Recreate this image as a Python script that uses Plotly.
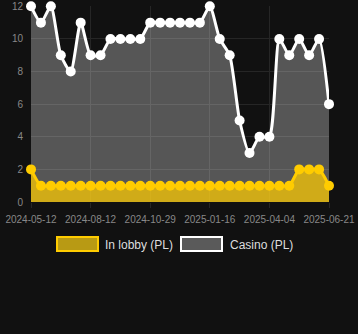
import plotly.graph_objects as go

dates = ["2024-05-12", "2024-05-27", "2024-06-11", "2024-06-26", "2024-07-12", "2024-07-27",
         "2024-08-12", "2024-08-25", "2024-09-07", "2024-09-20", "2024-10-03", "2024-10-16",
         "2024-10-29", "2024-11-11", "2024-11-24", "2024-12-07", "2024-12-20", "2025-01-03",
         "2025-01-16", "2025-01-29", "2025-02-11", "2025-02-24", "2025-03-09", "2025-03-22",
         "2025-04-04", "2025-04-17", "2025-04-30", "2025-05-13", "2025-05-26", "2025-06-08",
         "2025-06-21"]
casino = [12, 11, 12, 9, 8, 11, 9, 9, 10, 10, 10, 10, 11, 11, 11, 11, 11, 11, 12, 10, 9, 5, 3, 4, 4,
          10, 9, 10, 9, 10, 6]
lobby = [2] + [1] * 26 + [2, 2, 2, 1]
tick_labels = ["2024-05-12", "2024-08-12", "2024-10-29", "2025-01-16", "2025-04-04", "2025-06-21"]
y_ticks = [0, 2, 4, 6, 8, 10, 12]

W, H = 358, 334
ML, MR, MT, MB = 31, 29, 6, 132

fig = go.Figure()
fig.add_trace(go.Scatter(
    x=dates, y=casino, mode="lines+markers", name="Casino (PL)",
    line=dict(color="#ffffff", width=3, shape="spline", smoothing=0.6),
    marker=dict(color="#ffffff", size=10),
    fill="tozeroy", fillcolor="rgba(255,255,255,0.29)", showlegend=False, cliponaxis=False))
fig.add_trace(go.Scatter(
    x=dates, y=lobby, mode="lines+markers", name="In lobby (PL)",
    line=dict(color="#ffcc00", width=3, shape="spline", smoothing=0.6),
    marker=dict(color="#ffcc00", size=10),
    fill="tozeroy", fillcolor="rgba(255,204,0,0.72)", showlegend=False, cliponaxis=False))

pw = W - ML - MR
ph = H - MT - MB
def px(x): return (x - ML) / pw
def py(y): return (H - MB - y) / ph

shapes = [
    dict(type="rect", xref="paper", yref="paper", x0=px(57), x1=px(98), y0=py(251), y1=py(237),
         fillcolor="#b89a14", line=dict(color="#ffcc00", width=2)),
    dict(type="rect", xref="paper", yref="paper", x0=px(181), x1=px(222), y0=py(251), y1=py(237),
         fillcolor="#5a5a5a", line=dict(color="#ffffff", width=2)),
]
annotations = [
    dict(xref="paper", yref="paper", x=px(103), y=py(245), text="In lobby (PL)", showarrow=False,
         xanchor="left", yanchor="middle", font=dict(color="#dddddd", size=12)),
    dict(xref="paper", yref="paper", x=px(228), y=py(245), text="Casino (PL)", showarrow=False,
         xanchor="left", yanchor="middle", font=dict(color="#dddddd", size=12)),
]

fig.update_layout(
    width=W, height=H, margin=dict(l=ML, r=MR, t=MT, b=MB, autoexpand=False),
    paper_bgcolor="#111111", plot_bgcolor="#111111",
    font=dict(family="Arial, Liberation Sans, sans-serif", color="#888888", size=10),
    shapes=shapes, annotations=annotations, showlegend=False,
    xaxis=dict(type="category", range=[0, len(dates) - 1], tickmode="array", tickvals=tick_labels,
               ticktext=tick_labels, showgrid=True, gridcolor="#262626", zeroline=False,
               ticks="outside", ticklen=5, tickcolor="#262626", ticklabelstandoff=3,
               automargin=False, tickfont=dict(size=10, color="#888888")),
    yaxis=dict(range=[0, 12.02], tickvals=y_ticks, showgrid=True, gridcolor="#262626", zeroline=False,
               ticks="", ticklabelstandoff=7, ticklabeloverflow="allow", automargin=False,
               tickfont=dict(size=10, color="#888888")),
)
fig.write_html("out.html")
